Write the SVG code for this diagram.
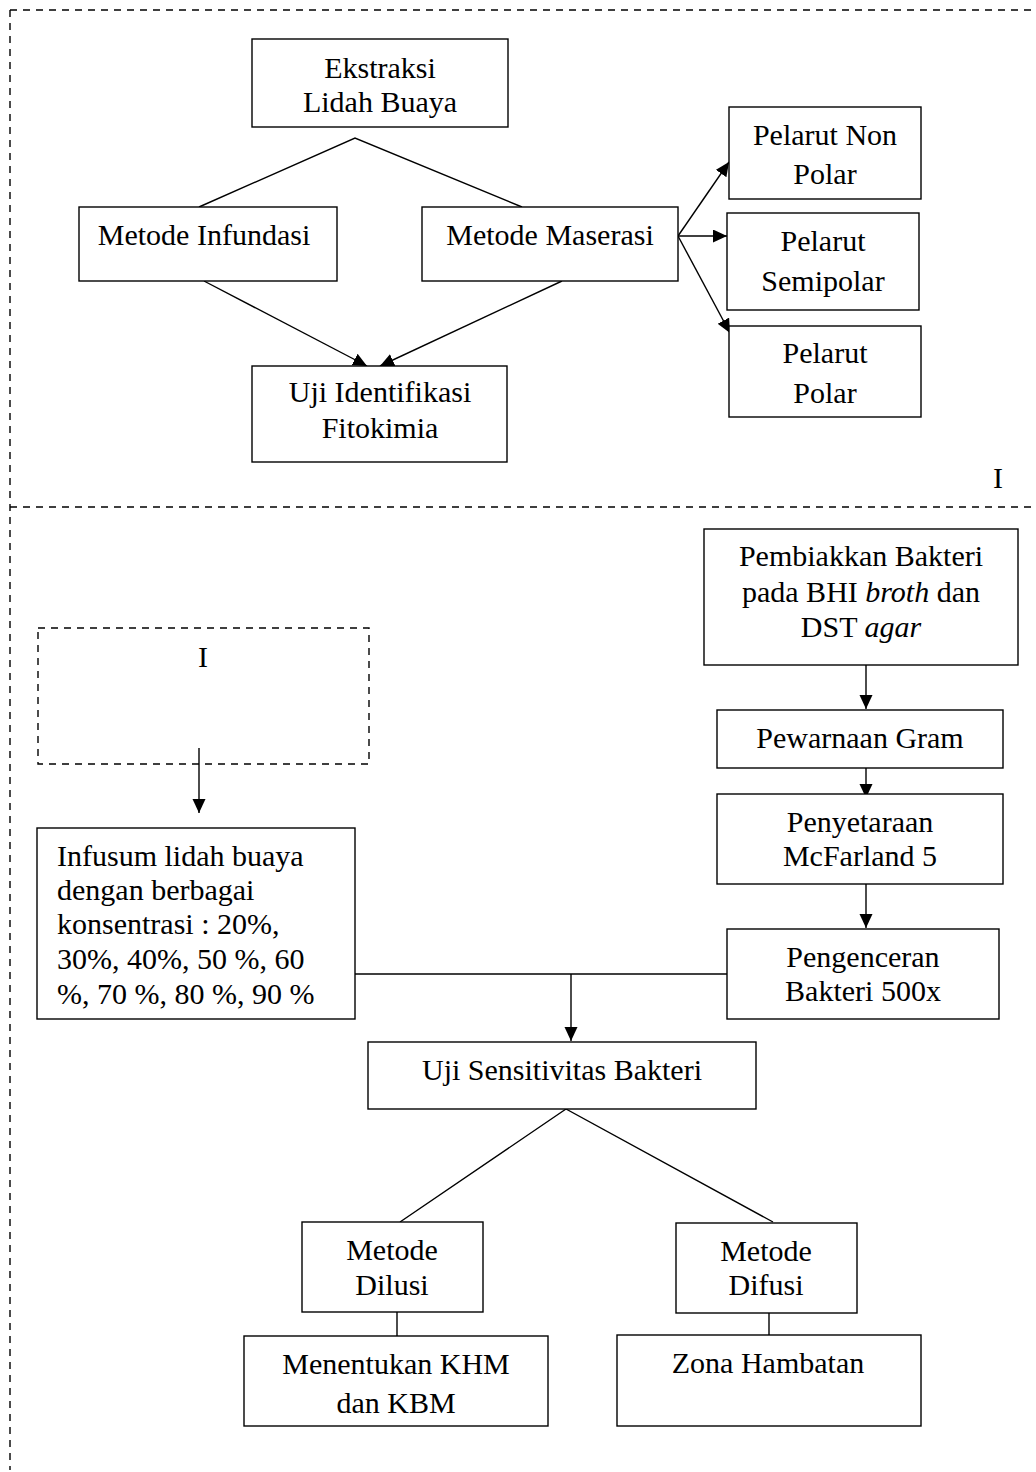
<svg xmlns="http://www.w3.org/2000/svg" width="1036" height="1472" viewBox="0 0 1036 1472">
<style>
  .bg { fill: #ffffff; }
  .box { fill: #ffffff; stroke: #000000; stroke-width: 1.4; }
  .dbox { fill: none; stroke: #000000; stroke-width: 1.4; stroke-dasharray: 7 6; }
  .dash { fill: none; stroke: #000000; stroke-width: 1.4; stroke-dasharray: 7 6; }
  .ln { fill: none; stroke: #000000; stroke-width: 1.4; }
  .arr { fill: none; stroke: #000000; stroke-width: 1.4; marker-end: url(#ah); }
  text { font-family: "Liberation Serif", "Times New Roman", serif; font-size: 30px; fill: #000000; }
  .c { text-anchor: middle; }
</style>
<defs>
  <marker id="ah" markerUnits="userSpaceOnUse" markerWidth="15" markerHeight="14" refX="14" refY="6.5" orient="auto">
    <path d="M0,0 L14,6.5 L0,13 z" fill="#000000"/>
  </marker>
</defs>
<rect class="bg" x="0" y="0" width="1036" height="1472"/>

<g id="frame">
  <line class="dash" x1="10" y1="10" x2="1036" y2="10"/>
  <line class="dash" x1="10" y1="507" x2="1036" y2="507"/>
  <line class="dash" x1="10" y1="10" x2="10" y2="1470"/>
  <text x="998" y="488" class="c">I</text>
</g>

<g id="connectors">
  <polyline class="ln" points="199,207 355,138 522,207"/>
  <line class="arr" x1="204" y1="281" x2="367" y2="366"/>
  <line class="arr" x1="562" y1="281" x2="380" y2="366"/>
  <line class="arr" x1="678" y1="236" x2="729" y2="162"/>
  <line class="arr" x1="678" y1="236" x2="727" y2="236"/>
  <line class="arr" x1="678" y1="236" x2="730" y2="333"/>
  <line class="arr" x1="199" y1="748" x2="199" y2="813"/>
  <line class="arr" x1="866" y1="665" x2="866" y2="709"/>
  <line class="arr" x1="866" y1="768" x2="866" y2="798"/>
  <line class="arr" x1="866" y1="884" x2="866" y2="928"/>
  <line class="ln" x1="355" y1="974" x2="732" y2="974"/>
  <line class="arr" x1="571" y1="974" x2="571" y2="1041"/>
  <polyline class="ln" points="400,1222 566,1109 773,1222"/>
  <line class="ln" x1="397" y1="1312" x2="397" y2="1336"/>
  <line class="ln" x1="769" y1="1313" x2="769" y2="1335"/>
</g>

<g id="ekstraksi">
  <rect class="box" x="252" y="39" width="256" height="88"/>
  <text x="380" y="78" class="c">Ekstraksi</text>
  <text x="380" y="112" class="c">Lidah Buaya</text>
</g>
<g id="infundasi">
  <rect class="box" x="79" y="207" width="258" height="74"/>
  <text x="204" y="245" class="c">Metode Infundasi</text>
</g>
<g id="maserasi">
  <rect class="box" x="422" y="207" width="256" height="74"/>
  <text x="550" y="245" class="c">Metode Maserasi</text>
</g>
<g id="fitokimia">
  <rect class="box" x="252" y="366" width="255" height="96"/>
  <text x="380" y="402" class="c">Uji Identifikasi</text>
  <text x="380" y="438" class="c">Fitokimia</text>
</g>
<g id="nonpolar">
  <rect class="box" x="729" y="107" width="192" height="92"/>
  <text x="825" y="145" class="c">Pelarut Non</text>
  <text x="825" y="184" class="c">Polar</text>
</g>
<g id="semipolar">
  <rect class="box" x="727" y="213" width="192" height="97"/>
  <text x="823" y="251" class="c">Pelarut</text>
  <text x="823" y="291" class="c">Semipolar</text>
</g>
<g id="polar">
  <rect class="box" x="729" y="326" width="192" height="91"/>
  <text x="825" y="363" class="c">Pelarut</text>
  <text x="825" y="403" class="c">Polar</text>
</g>

<g id="ref-i">
  <rect class="dbox" x="38" y="628" width="331" height="136"/>
  <text x="203" y="667" class="c">I</text>
</g>
<g id="infusum">
  <rect class="box" x="37" y="828" width="318" height="191"/>
  <text x="57" y="866">Infusum lidah buaya</text>
  <text x="57" y="900">dengan berbagai</text>
  <text x="57" y="934">konsentrasi : 20%,</text>
  <text x="57" y="969">30%, 40%, 50 %, 60</text>
  <text x="57" y="1004">%, 70 %, 80 %, 90 %</text>
</g>

<g id="pembiakkan">
  <rect class="box" x="704" y="529" width="314" height="136"/>
  <text x="861" y="566" class="c">Pembiakkan Bakteri</text>
  <text x="861" y="602" class="c">pada BHI <tspan font-style="italic">broth</tspan> dan</text>
  <text x="861" y="637" class="c">DST <tspan font-style="italic">agar</tspan></text>
</g>
<g id="pewarnaan">
  <rect class="box" x="717" y="710" width="286" height="58"/>
  <text x="860" y="748" class="c">Pewarnaan Gram</text>
</g>
<g id="penyetaraan">
  <rect class="box" x="717" y="794" width="286" height="90"/>
  <text x="860" y="832" class="c">Penyetaraan</text>
  <text x="860" y="866" class="c">McFarland 5</text>
</g>
<g id="pengenceran">
  <rect class="box" x="727" y="929" width="272" height="90"/>
  <text x="863" y="967" class="c">Pengenceran</text>
  <text x="863" y="1001" class="c">Bakteri 500x</text>
</g>

<g id="sensitivitas">
  <rect class="box" x="368" y="1042" width="388" height="67"/>
  <text x="562" y="1080" class="c">Uji Sensitivitas Bakteri</text>
</g>
<g id="dilusi">
  <rect class="box" x="302" y="1222" width="181" height="90"/>
  <text x="392" y="1260" class="c">Metode</text>
  <text x="392" y="1295" class="c">Dilusi</text>
</g>
<g id="khm">
  <rect class="box" x="244" y="1336" width="304" height="90"/>
  <text x="396" y="1374" class="c">Menentukan KHM</text>
  <text x="396" y="1413" class="c">dan KBM</text>
</g>
<g id="difusi">
  <rect class="box" x="676" y="1223" width="181" height="90"/>
  <text x="766" y="1261" class="c">Metode</text>
  <text x="766" y="1295" class="c">Difusi</text>
</g>
<g id="zona">
  <rect class="box" x="617" y="1335" width="304" height="91"/>
  <text x="768" y="1373" class="c">Zona Hambatan</text>
</g>
</svg>
